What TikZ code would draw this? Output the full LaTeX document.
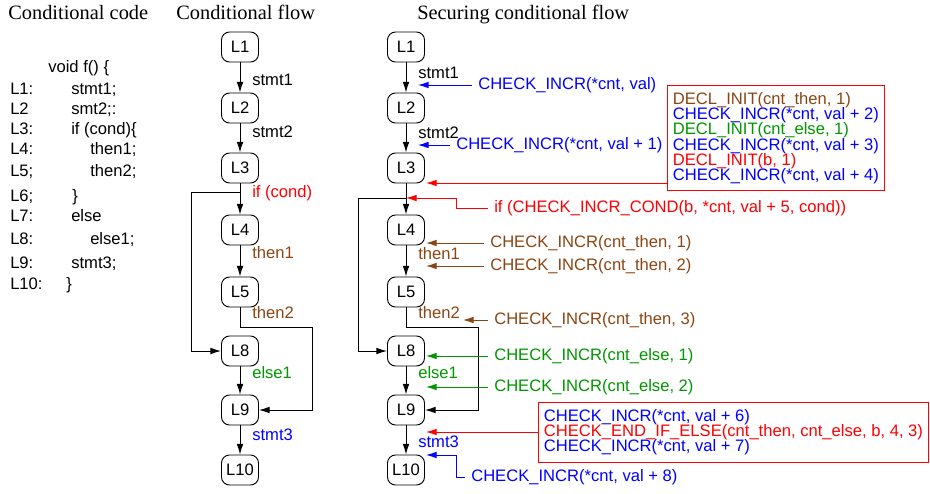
\documentclass[tikz,border=0pt]{standalone}
\usepackage{fontspec}
\setmainfont{Liberation Sans}
\newfontfamily\titlefont{Liberation Serif}
\usetikzlibrary{arrows.meta}

\definecolor{brownc}{RGB}{139,69,19}
\definecolor{greenc}{RGB}{0,150,0}
\newcommand\tightlines{\lineskiplimit=-20pt\relax}

\tikzset{
  lnode/.style={draw, rounded corners=6pt, minimum width=27.75pt, minimum height=22.5pt, inner sep=0pt, line width=0.7pt},
  flow/.style={-{Latex[length=8pt,width=5pt]}, line width=0.7pt},
  ann/.style={-{Latex[length=8pt,width=5pt]}, line width=0.7pt},
  lbl/.style={anchor=west, inner sep=0pt},
  code/.style={anchor=base west, inner sep=0pt},
  anntxt/.style={anchor=west, inner xsep=4.5pt, inner ysep=0pt},
  boxnode/.style={draw=red, anchor=north west, align=left, inner xsep=4pt, inner ysep=5.5pt, line width=0.7pt,
    font=\fontsize{12.45}{11.3}\selectfont\tightlines},
  titre/.style={anchor=base west, inner sep=0pt, font=\titlefont\fontsize{15.3}{17}\selectfont}
}

\begin{document}
\begin{tikzpicture}[x=0.75pt, y=-0.75pt, font=\fontsize{12.45}{14}\selectfont]
\useasboundingbox (0,0) rectangle (930,493);

% titols
\node[titre] (tcode) at (8,19) {Conditional code};
\node[titre] (tflow) at (176,19) {Conditional flow};
\node[titre] (tsec) at (417,19) {Securing conditional flow};

% codi
\node[code] (fhead) at (48,72) {void f() \{};
\foreach [count=\i] \lab/\txt/\xx/\yy in {L1:/stmt1;/71/94, L2/smt2;:/71/114, L3:/if (cond)\{/71/134,
    L4:/then1;/90/154, L5;/then2;/90/176, L6;/\}/72/201, L7:/else/71/221, L8:/else1;/90/244,
    L9:/stmt3;/71/268, L10:/\}/66/289}
{
  \node[code] (lab\i) at (10,\yy) {\lab};
  \node[code] (line\i) at (\xx,\yy) {\txt};
}

% flux condicional
\foreach \n/\yy in {1/47,2/108,3/168,4/230,5/292,8/351,9/410,10/470}
  \node[lnode] (mL\n) at (240,\yy) {L\n};
\foreach \a/\b in {1/2,2/3,3/4,4/5,8/9,9/10}
  \draw[flow] (mL\a) -- (mL\b);
\coordinate (mj) at (240,192);
\coordinate (mleft) at (191,192);
\coordinate (mright) at (312,327);
\draw[flow] (mj) -- (mleft) |- (mL8.west);
\draw[flow] (mL5.south) |- (mright) |- (mL9.east);

\node[lbl] (mstmt1) at (252,80) {stmt1};
\node[lbl] (mstmt2) at (252,132) {stmt2};
\node[lbl, red] (mif) at (252,193) {if (cond)};
\node[lbl, brownc] (mthen1) at (252,253) {then1};
\node[lbl, brownc] (mthen2) at (252,313) {then2};
\node[lbl, greenc] (melse1) at (252,373) {else1};
\node[lbl, blue] (mstmt3) at (252,435) {stmt3};

% flux securitzat
\foreach \n/\yy in {1/47,2/108,3/168,4/230,5/292,8/351,9/410,10/470}
  \node[lnode] (sL\n) at (406,\yy) {L\n};
\foreach \a/\b in {1/2,2/3,3/4,4/5,8/9,9/10}
  \draw[flow] (sL\a) -- (sL\b);
\coordinate (sj) at (406,198);
\coordinate (sleft) at (358,198);
\coordinate (sright) at (478,327);
\draw[flow] (sj) -- (sleft) |- (sL8.west);
\draw[flow] (sL5.south) |- (sright) |- (sL9.east);

\node[lbl] (sstmt1) at (418,73) {stmt1};
\node[lbl] (sstmt2) at (418,133) {stmt2};
\node[lbl, brownc] (sthen1) at (418,254) {then1};
\node[lbl, brownc] (sthen2) at (418,313) {then2};
\node[lbl, greenc] (selse1) at (418,373) {else1};
\node[lbl, blue] (sstmt3) at (418,442) {stmt3};

% contramesures
\node[anntxt, blue] (ci0) at (472,85) {CHECK\_INCR(*cnt, val)};
\coordinate (tip0) at (418,85);
\draw[ann, blue] (ci0.west) -- (tip0);

\node[anntxt, blue] (ci1) at (450,145) {CHECK\_INCR(*cnt, val + 1)};
\coordinate (tip1) at (418,145);
\draw[ann, blue] (ci1.west) -- (tip1);

\node[boxnode] (boxA) at (667,85) {%
  {\color{brownc}DECL\_INIT(cnt\_then, 1)}\\
  {\color{blue}CHECK\_INCR(*cnt, val + 2)}\\
  {\color{greenc}DECL\_INIT(cnt\_else, 1)}\\
  {\color{blue}CHECK\_INCR(*cnt, val + 3)}\\
  {\color{red}DECL\_INIT(b, 1)}\\
  {\color{blue}CHECK\_INCR(*cnt, val + 4)}};
\coordinate (tipA) at (426,183);
\draw[ann, red] (boxA.west |- tipA) -- (tipA);

\node[anntxt, red] (cond) at (488,208) {if (CHECK\_INCR\_COND(b, *cnt, val + 5, cond))};
\coordinate (condbend) at (456,198);
\draw[ann, red] (cond.west) -| (condbend) -- (sj);

\node[anntxt, brownc] (then1) at (484,243) {CHECK\_INCR(cnt\_then, 1)};
\coordinate (tipt1) at (426,243);
\draw[ann, brownc] (then1.west) -- (tipt1);

\node[anntxt, brownc] (then2) at (484,266) {CHECK\_INCR(cnt\_then, 2)};
\coordinate (tipt2) at (426,266);
\draw[ann, brownc] (then2.west) -- (tipt2);

\node[anntxt, brownc] (then3) at (488,320) {CHECK\_INCR(cnt\_then, 3)};
\coordinate (tipt3) at (463,320);
\draw[ann, brownc] (then3.west) -- (tipt3);

\node[anntxt, greenc] (else1) at (488,356) {CHECK\_INCR(cnt\_else, 1)};
\coordinate (tipe1) at (426,356);
\draw[ann, greenc] (else1.west) -- (tipe1);

\node[anntxt, greenc] (else2) at (488,387) {CHECK\_INCR(cnt\_else, 2)};
\coordinate (tipe2) at (426,387);
\draw[ann, greenc] (else2.west) -- (tipe2);

\node[boxnode] (boxB) at (538,402) {%
  {\color{blue}CHECK\_INCR(*cnt, val + 6)}\\
  {\color{red}CHECK\_END\_IF\_ELSE(cnt\_then, cnt\_else, b, 4, 3)}\\
  {\color{blue}CHECK\_INCR(*cnt, val + 7)}};
\coordinate (tipB) at (426,432);
\draw[ann, red] (boxB.west |- tipB) -- (tipB);

\node[anntxt, blue] (ci8) at (465,477) {CHECK\_INCR(*cnt, val + 8)};
\coordinate (bend8) at (456,455);
\coordinate (tip8) at (426,455);
\draw[ann, blue] (ci8.west) -| (bend8) -- (tip8);
\end{tikzpicture}
\end{document}
